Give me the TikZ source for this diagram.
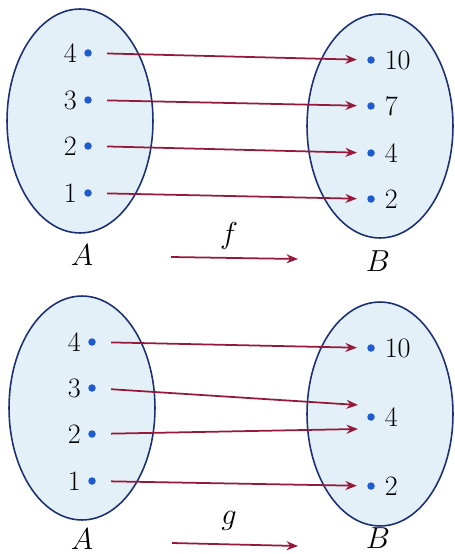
\documentclass[tikz,border=0pt]{standalone}
\usetikzlibrary{arrows.meta,shapes.geometric}
\definecolor{setfill}{RGB}{228,240,247}
\definecolor{setline}{RGB}{28,48,118}
\definecolor{maparrow}{RGB}{150,25,60}
\definecolor{elemdot}{RGB}{30,90,210}

\begin{document}
\begin{tikzpicture}[
    x=0.02cm, y=-0.02cm,
    >={Stealth[length=2.3mm,width=1.8mm]},
    font=\fontsize{16}{19}\selectfont,
    set/.style={draw=setline, fill=setfill, ellipse, line width=0.9pt,
                minimum width=2.92cm, minimum height=4.48cm},
    elem/.style={circle, fill=elemdot, inner sep=0pt, minimum size=0.15cm},
    leftlab/.style={label={[label distance=0.5pt]left:#1}},
    rightlab/.style={label={[label distance=2pt]right:#1}},
    maps/.style={->, draw=maparrow, line width=1pt,
                 shorten <=0.3cm, shorten >=0.2cm},
    setname/.style={inner sep=0.5pt},
]
\useasboundingbox (0,0) rectangle (454,554);

% === Top: f ===
\node[set] (fA) at (80,121) {};
\node[set] (fB) at (380,126) {};

\node[elem, leftlab=4] (fa4) at (88,53) {};
\node[elem, leftlab=3] (fa3) at (88,100) {};
\node[elem, leftlab=2] (fa2) at (88,146) {};
\node[elem, leftlab=1] (fa1) at (88,193) {};

\node[elem, rightlab=10] (fb10) at (371,60) {};
\node[elem, rightlab=7]  (fb7)  at (371,106) {};
\node[elem, rightlab=4]  (fb4)  at (371,153) {};
\node[elem, rightlab=2]  (fb2)  at (371,199) {};

\draw[maps] (fa4) -- (fb10);
\draw[maps] (fa3) -- (fb7);
\draw[maps] (fa2) -- (fb4);
\draw[maps] (fa1) -- (fb2);

\node[setname] (fnameA) at (82,255) {$A$};
\node[setname] (fnameB) at (378,261) {$B$};
\node[setname] (fname) at (229,236) {$f$};
\coordinate (fl) at (171,257);
\coordinate (fr) at (298,259);
\draw[->, draw=maparrow, line width=1pt] (fl) -- (fr);

% === Bottom: g ===
\node[set] (gA) at (82,408) {};
\node[set] (gB) at (380,414) {};

\node[elem, leftlab=4] (ga4) at (92,342) {};
\node[elem, leftlab=3] (ga3) at (92,388) {};
\node[elem, leftlab=2] (ga2) at (92,434) {};
\node[elem, leftlab=1] (ga1) at (92,481) {};

\node[elem, rightlab=10] (gb10) at (371,348) {};
\node[elem, rightlab=4]  (gb4)  at (371,417) {};
\node[elem, rightlab=2]  (gb2)  at (371,486) {};

\coordinate (g3end) at (358,405);
\coordinate (g2end) at (358,429);

\draw[maps] (ga4) -- (gb10);
\draw[maps, shorten >=0pt] (ga3) -- (g3end);
\draw[maps, shorten >=0pt] (ga2) -- (g2end);
\draw[maps] (ga1) -- (gb2);

\node[setname] (gnameA) at (82,539) {$A$};
\node[setname] (gnameB) at (378,538) {$B$};
\node[setname] (gname) at (229,521) {$g$};
\coordinate (gl) at (172,543);
\coordinate (gr) at (298,546);
\draw[->, draw=maparrow, line width=1pt] (gl) -- (gr);

\end{tikzpicture}
\end{document}
